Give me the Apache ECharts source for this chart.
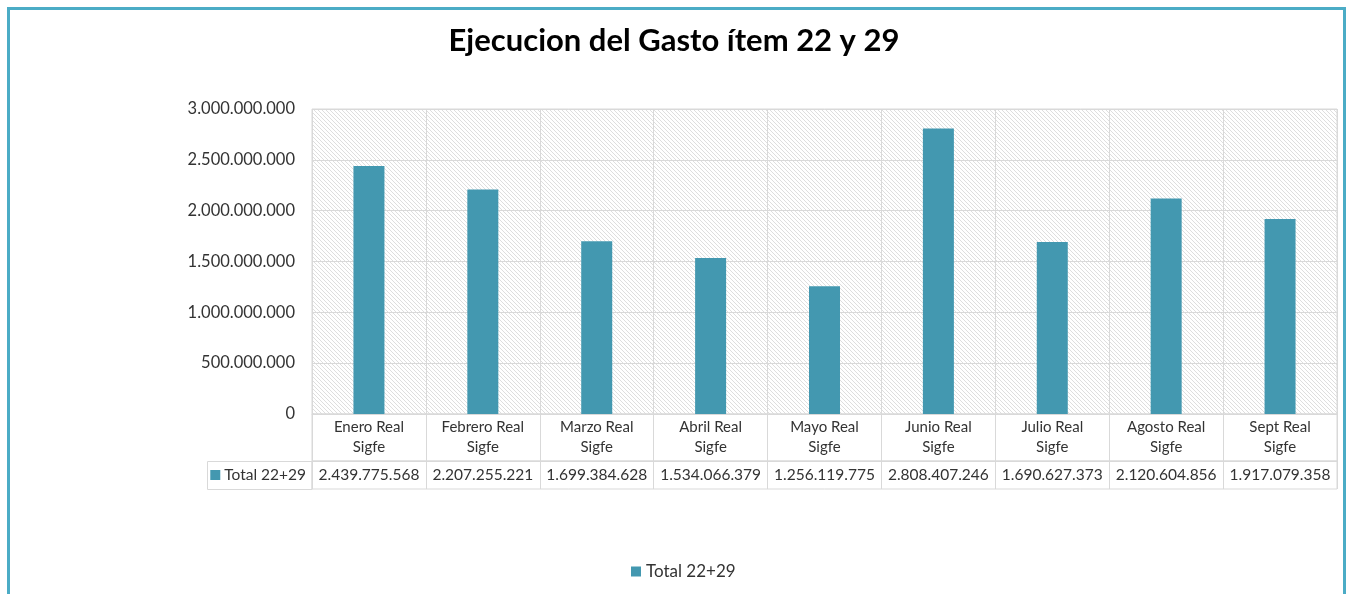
<!DOCTYPE html>
<html>
<head>
<meta charset="utf-8">
<script src="https://cdn.jsdelivr.net/npm/echarts@6/dist/echarts.min.js"></script>
<style>
  html, body { margin: 0; padding: 0; background: #fff; }
  #main { width: 1348px; height: 594px; }
</style>
</head>
<body>
<div id="main"></div>
<script>
// data
const categories = ['Enero Real\nSigfe', 'Febrero Real\nSigfe', 'Marzo Real\nSigfe', 'Abril Real\nSigfe',
  'Mayo Real\nSigfe', 'Junio Real\nSigfe', 'Julio Real\nSigfe', 'Agosto Real\nSigfe', 'Sept Real\nSigfe'];
const seriesName = 'Total 22+29';
const totals = [2439775568, 2207255221, 1699384628, 1534066379, 1256119775, 2808407246, 1690627373, 2120604856, 1917079358];
const yMax = 3000000000;
const yStep = 500000000;

const FONT = 'Lato, "Open Sans", sans-serif';
const GRID_COLOR = '#d9d9d9';
const BAR_COLOR = '#4398b0';
const TEXT_COLOR = '#333333';

// miles con punto, como en Excel es-CL
function fmt(n) {
  return String(n).replace(/\B(?=(\d{3})+(?!\d))/g, '.');
}

// hatched background for the plot area
function hatch() {
  const c = document.createElement('canvas');
  c.width = 8; c.height = 8;
  const ctx = c.getContext('2d');
  ctx.fillStyle = '#ffffff';
  ctx.fillRect(0, 0, 8, 8);
  ctx.strokeStyle = '#dedede';
  ctx.lineWidth = 1;
  for (let k = -8; k <= 8; k += 4) {
    ctx.beginPath();
    ctx.moveTo(k, 0);
    ctx.lineTo(k + 8, 8);
    ctx.stroke();
  }
  return { image: c, repeat: 'repeat' };
}

const chart = echarts.init(document.getElementById('main'));
const plotLeft = 312, plotWidth = 1025;

chart.setOption({
  animation: false,
  title: {
    text: 'Ejecucion del Gasto ítem 22 y 29',
    left: 'center',
    top: 20,
    textStyle: { fontFamily: FONT, fontSize: 31, fontWeight: 'bold', color: '#000' }
  },
  legend: {
    data: [seriesName],
    left: 626,
    top: 558,
    icon: 'rect',
    itemWidth: 10,
    itemHeight: 10,
    itemGap: 5,
    textStyle: { fontFamily: FONT, fontSize: 17, color: TEXT_COLOR }
  },
  graphic: [
    {
      type: 'rect',
      shape: { x: 8.5, y: 8.5, width: 1336, height: 640 },
      style: { fill: null, stroke: '#4bacc6', lineWidth: 3 },
      silent: true
    },
    {
      // celda de la leyenda en la tabla de datos
      type: 'rect',
      shape: { x: 207.5, y: 461.5, width: 104.5, height: 28 },
      style: { fill: null, stroke: GRID_COLOR, lineWidth: 1 },
      silent: true
    }
  ],
  grid: [
    { left: plotLeft, top: 109, width: plotWidth, height: 305,
      show: true, backgroundColor: hatch(), borderColor: GRID_COLOR, borderWidth: 1 },
    { left: plotLeft, top: 414, width: plotWidth, height: 47,
      show: true, borderColor: GRID_COLOR, borderWidth: 1 },
    { left: plotLeft, top: 461, width: plotWidth, height: 28,
      show: true, borderColor: GRID_COLOR, borderWidth: 1 }
  ],
  xAxis: [
    {
      gridIndex: 0, type: 'category', data: categories,
      axisLine: { lineStyle: { color: GRID_COLOR } },
      axisTick: { show: false },
      axisLabel: { show: false },
      splitLine: { show: true, lineStyle: { color: GRID_COLOR } }
    },
    {
      gridIndex: 1, type: 'category', data: categories, position: 'top',
      axisLine: { lineStyle: { color: GRID_COLOR } },
      axisTick: { show: false },
      axisLabel: { inside: true, margin: 3, interval: 0, fontFamily: FONT, fontSize: 15,
        lineHeight: 20, color: TEXT_COLOR },
      splitLine: { show: true, lineStyle: { color: GRID_COLOR } }
    },
    {
      gridIndex: 2, type: 'category', data: totals.map(fmt), position: 'top',
      axisLine: { lineStyle: { color: GRID_COLOR } },
      axisTick: { show: false },
      axisLabel: { inside: true, margin: 4, interval: 0, fontFamily: FONT, fontSize: 15.5,
        lineHeight: 20, color: TEXT_COLOR },
      splitLine: { show: true, lineStyle: { color: GRID_COLOR } }
    }
  ],
  yAxis: [
    {
      gridIndex: 0, type: 'value', min: 0, max: yMax, interval: yStep,
      axisLine: { show: false },
      axisTick: { show: false },
      axisLabel: { margin: 17, fontFamily: FONT, fontSize: 16.5, color: TEXT_COLOR, formatter: fmt },
      splitLine: { lineStyle: { color: GRID_COLOR } }
    },
    { gridIndex: 1, type: 'value', show: false },
    {
      gridIndex: 2, type: 'category', data: [seriesName],
      axisLine: { show: false },
      axisTick: { show: false },
      splitLine: { show: false },
      axisLabel: {
        margin: 6,
        formatter: v => '{sq|} ' + v,
        fontFamily: FONT, fontSize: 15.5, color: TEXT_COLOR,
        rich: { sq: { backgroundColor: BAR_COLOR, width: 10, height: 10 } }
      }
    }
  ],
  series: [
    {
      name: seriesName,
      type: 'bar',
      xAxisIndex: 0,
      yAxisIndex: 0,
      data: totals,
      barWidth: 31,
      itemStyle: { color: BAR_COLOR }
    }
  ]
});
</script>
</body>
</html>
